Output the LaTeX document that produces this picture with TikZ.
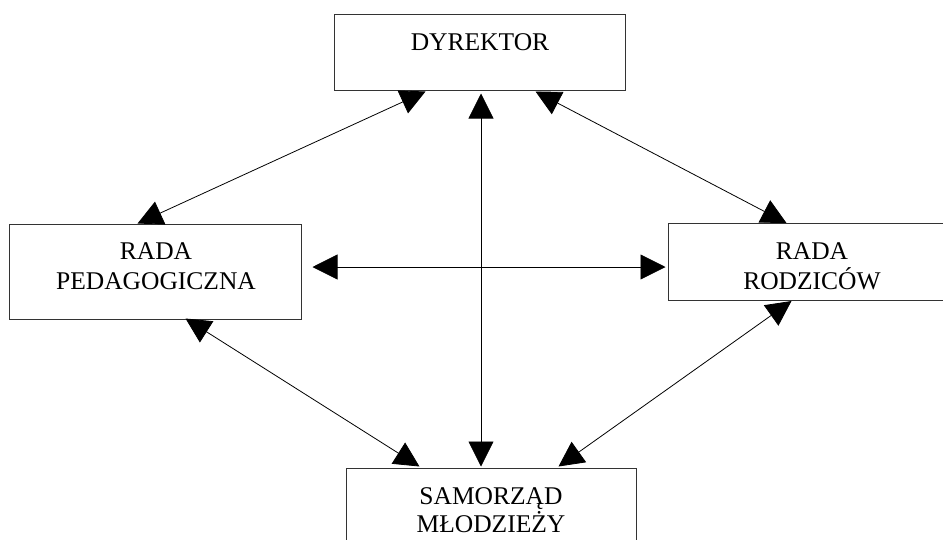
\documentclass[tikz,border=0pt]{standalone}
\usepackage{fontspec}
\setmainfont{Liberation Serif}
\usetikzlibrary{arrows.meta,calc}
\tikzset{
  orgbox/.style={draw=black!80, line width=1pt, rectangle, inner sep=0pt},
  orglabel/.style={align=center, inner sep=0pt, font=\fontsize{25.5}{30}\selectfont},
  link/.style={draw=black, line width=0.8pt,
    {Triangle[length=25pt,width=25pt]}-{Triangle[length=25pt,width=25pt]}}
}
\begin{document}
\begin{tikzpicture}[x=1pt,y=-1pt]
\clip (0,0) rectangle (943,539);
\fill[white] (0,0) rectangle (943,539);
% boxes
\node[orgbox, minimum width=291pt, minimum height=76pt] (dyr) at (479.5,52) {};
\node[orgbox, minimum width=292pt, minimum height=95pt] (ped) at (155,271.5) {};
\node[orgbox, minimum width=288pt, minimum height=77pt] (rod) at (812,262) {};
\node[orgbox, minimum width=290pt, minimum height=85pt] (sam) at (491,510.5) {};
% labels
\node[orglabel, anchor=base] (dyrt) at (480,50) {DYREKTOR};
\node[orglabel] (pedt) at (156,266) {RADA\\PEDAGOGICZNA};
\node[orglabel] (rodt) at (812,266) {RADA\\RODZICÓW};
\node[orglabel, font=\fontsize{25.5}{28.5}\selectfont] (samt) at (491,510) {SAMORZĄD\\MŁODZIEŻY};
% connectors
\draw[link] ($(dyr.south west)+(92,1)$) -- ($(ped.north west)+(129,0)$);
\draw[link] ($(dyr.south)+(1.5,3)$) -- ($(sam.north)+(-10,-1)$);
\draw[link] ($(dyr.south east)+(-90,1)$) -- ($(rod.north west)+(119,0)$);
\draw[link] ($(ped.east)+(11,-4.5)$) -- ($(rod.west)+(-2,5)$);
\draw[link] ($(ped.south west)+(177,-1)$) -- ($(sam.north west)+(74,-1)$);
\draw[link] ($(rod.south west)+(124,0)$) -- ($(sam.north east)+(-78,-1)$);
\end{tikzpicture}
\end{document}
